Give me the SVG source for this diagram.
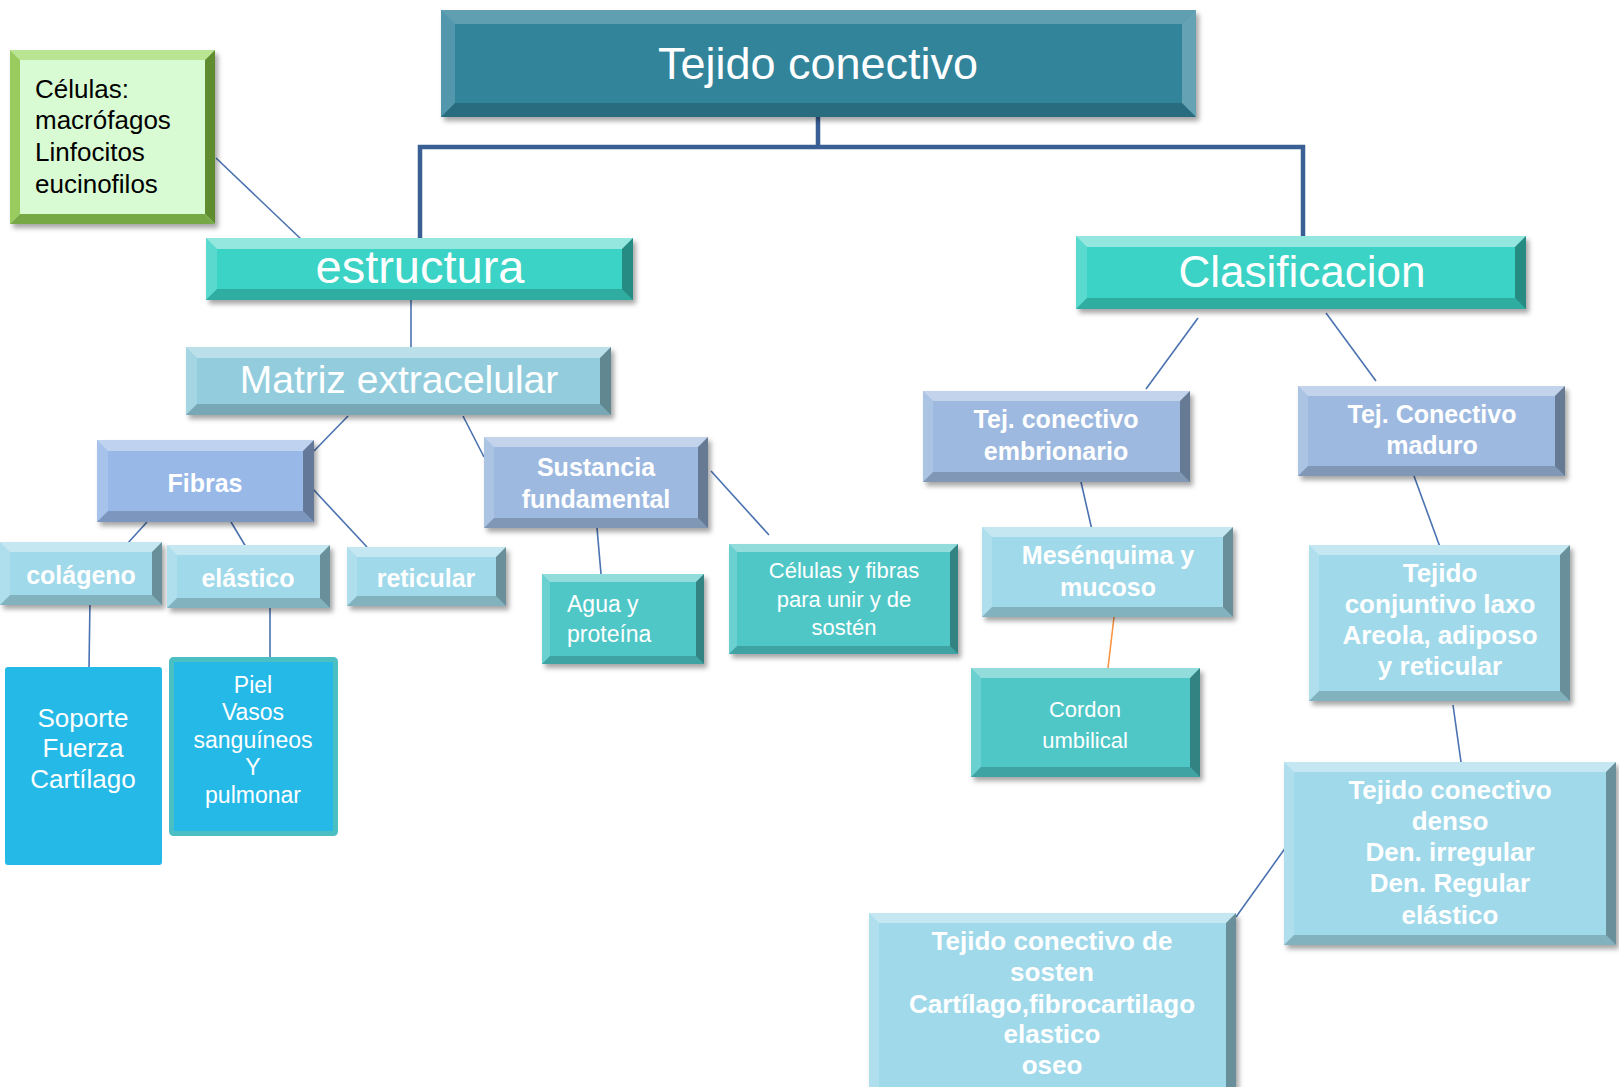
<svg xmlns="http://www.w3.org/2000/svg" width="1619" height="1087" viewBox="0 0 1619 1087">
<defs>
<filter id="sh" x="-10%" y="-10%" width="125%" height="130%">
<feDropShadow dx="3" dy="4" stdDeviation="2.5" flood-color="#000" flood-opacity="0.35"/>
</filter>
<style>
.bt{fill:#fff;fill-opacity:.38}
.bl{fill:#fff;fill-opacity:.16}
.br{fill:#000;fill-opacity:.34}
.bb{fill:#000;fill-opacity:.18}
.box{filter:url(#sh)}
.cal{font-family:"Liberation Sans",Arial,sans-serif;fill:#fff;text-anchor:middle}
.bold{font-family:"Liberation Sans",Arial,sans-serif;font-weight:bold;fill:#fff;text-anchor:middle;font-size:25px}
.reg{font-family:"Liberation Sans",Arial,sans-serif;fill:#fff;text-anchor:middle}
.ln{stroke:#4A72B0;stroke-width:1.6;fill:none}
.teal{fill:#31849B}
.turq{fill:#3AD3C5}
.lblue{fill:#93CDDD}
.peri{fill:#98B8E8}
.peri2{fill:#9DB9DF}
.cyan{fill:#A0D9EA}
.sea{fill:#4FC7C7}
.sky{fill:#25B9E8}
</style>
</defs>

<g id="connectors">
<path d="M818,117 V147 M420,238 V147 H1303 V237" stroke="#3A5F95" stroke-width="4.5" fill="none"/>
<line class="ln" x1="216" y1="158" x2="302" y2="240"/>
<line class="ln" x1="411" y1="300" x2="411" y2="347"/>
<line class="ln" x1="348" y1="416" x2="314" y2="451"/>
<line class="ln" x1="463" y1="416" x2="484" y2="457"/>
<line class="ln" x1="147" y1="522" x2="127" y2="544"/>
<line class="ln" x1="231" y1="522" x2="246" y2="547"/>
<line class="ln" x1="312" y1="488" x2="367" y2="547"/>
<line class="ln" x1="90" y1="600" x2="89" y2="668"/>
<line class="ln" x1="270" y1="607" x2="270" y2="657"/>
<line class="ln" x1="597" y1="528" x2="601" y2="574"/>
<line class="ln" x1="711" y1="471" x2="769" y2="535"/>
<line class="ln" x1="1198" y1="318" x2="1146" y2="389"/>
<line class="ln" x1="1326" y1="313" x2="1376" y2="381"/>
<line class="ln" x1="1081" y1="482" x2="1092" y2="530"/>
<line x1="1114" y1="617" x2="1108" y2="668" stroke="#F79646" stroke-width="1.6"/>
<line class="ln" x1="1414" y1="476" x2="1440" y2="547"/>
<line class="ln" x1="1453" y1="705" x2="1461" y2="762"/>
<line class="ln" x1="1291" y1="840" x2="1236" y2="917"/>
</g>

<g id="n-title">
<rect class="box teal" x="441" y="10" width="755" height="107"/>
<polygon class="bt" points="441,10 1196,10 1182,24 455,24" style="fill-opacity:.22"/>
<polygon class="bl" points="441,10 455,24 455,103 441,117"/>
<polygon class="br" points="1196,10 1196,117 1182,103 1182,24" style="fill:#fff;fill-opacity:.25"/>
<polygon class="bb" points="441,117 455,103 1182,103 1196,117"/>
<text class="cal" x="818" y="79" font-size="45">Tejido conectivo</text>
</g>

<g id="n-celulas">
<rect class="box" x="10" y="50" width="205" height="174" fill="#D9FBD3"/>
<polygon points="10,50 215,50 205,60 20,60" fill="#B9E592"/>
<polygon points="10,50 20,60 20,214 10,224" fill="#9ACB5E"/>
<polygon points="215,50 215,224 205,214 205,60" fill="#5E8C2F"/>
<polygon points="10,224 20,214 205,214 215,224" fill="#76A845"/>
<text font-family="Liberation Sans, Arial, sans-serif" font-size="26" fill="#000">
<tspan x="35" y="98">Células:</tspan>
<tspan x="35" y="129">macrófagos</tspan>
<tspan x="35" y="161">Linfocitos</tspan>
<tspan x="35" y="193">eucinofilos</tspan>
</text>
</g>

<g id="n-estructura">
<rect class="box turq" x="206" y="238" width="427" height="62"/>
<polygon class="bt" points="206,238 633,238 622,249 217,249" style="fill-opacity:.45"/>
<polygon class="bl" points="206,238 217,249 217,289 206,300"/>
<polygon class="br" points="633,238 633,300 622,289 622,249"/>
<polygon class="bb" points="206,300 217,289 622,289 633,300"/>
<text class="cal" x="420" y="283" font-size="47">estructura</text>
</g>

<g id="n-clasificacion">
<rect class="box turq" x="1076" y="236" width="450" height="73"/>
<polygon class="bt" points="1076,236 1526,236 1515,247 1087,247" style="fill-opacity:.45"/>
<polygon class="bl" points="1076,236 1087,247 1087,298 1076,309"/>
<polygon class="br" points="1526,236 1526,309 1515,298 1515,247"/>
<polygon class="bb" points="1076,309 1087,298 1515,298 1526,309"/>
<text class="cal" x="1302" y="287" font-size="44">Clasificacion</text>
</g>

<g id="n-matriz">
<rect class="box lblue" x="186" y="347" width="425" height="68"/>
<polygon class="bt" points="186,347 611,347 600,358 197,358"/>
<polygon class="bl" points="186,347 197,358 197,404 186,415"/>
<polygon class="br" points="611,347 611,415 600,404 600,358"/>
<polygon class="bb" points="186,415 197,404 600,404 611,415"/>
<text class="cal" x="399" y="393" font-size="39">Matriz extracelular</text>
</g>

<g id="n-fibras">
<rect class="box peri" x="97" y="440" width="217" height="82"/>
<polygon class="bt" points="97,440 314,440 303,451 108,451"/>
<polygon class="bl" points="97,440 108,451 108,511 97,522"/>
<polygon class="br" points="314,440 314,522 303,511 303,451"/>
<polygon class="bb" points="97,522 108,511 303,511 314,522"/>
<text class="bold" x="205" y="492">Fibras</text>
</g>

<g id="n-sustancia">
<rect class="box peri2" x="484" y="437" width="224" height="91"/>
<polygon class="bt" points="484,437 708,437 698,447 494,447"/>
<polygon class="bl" points="484,437 494,447 494,518 484,528"/>
<polygon class="br" points="708,437 708,528 698,518 698,447"/>
<polygon class="bb" points="484,528 494,518 698,518 708,528"/>
<text class="bold"><tspan x="596" y="476">Sustancia</tspan><tspan x="596" y="508">fundamental</tspan></text>
</g>

<g id="n-colageno">
<rect class="box cyan" x="0" y="542" width="162" height="63"/>
<polygon class="bt" points="0,542 162,542 152,552 10,552"/>
<polygon class="bl" points="0,542 10,552 10,595 0,605"/>
<polygon class="br" points="162,542 162,605 152,595 152,552"/>
<polygon class="bb" points="0,605 10,595 152,595 162,605"/>
<text class="bold" x="81" y="584">colágeno</text>
</g>

<g id="n-elastico">
<rect class="box cyan" x="167" y="545" width="163" height="63"/>
<polygon class="bt" points="167,545 330,545 320,555 177,555"/>
<polygon class="bl" points="167,545 177,555 177,598 167,608"/>
<polygon class="br" points="330,545 330,608 320,598 320,555"/>
<polygon class="bb" points="167,608 177,598 320,598 330,608"/>
<text class="bold" x="248" y="587">elástico</text>
</g>

<g id="n-reticular">
<rect class="box cyan" x="347" y="547" width="159" height="59"/>
<polygon class="bt" points="347,547 506,547 496,557 357,557"/>
<polygon class="bl" points="347,547 357,557 357,596 347,606"/>
<polygon class="br" points="506,547 506,606 496,596 496,557"/>
<polygon class="bb" points="347,606 357,596 496,596 506,606"/>
<text class="bold" x="426" y="587">reticular</text>
</g>

<g id="n-soporte">
<rect class="sky" x="5" y="667" width="157" height="198" rx="3"/>
<text class="reg" font-size="26"><tspan x="83" y="727">Soporte</tspan><tspan x="83" y="757">Fuerza</tspan><tspan x="83" y="788">Cartílago</tspan></text>
</g>

<g id="n-piel">
<rect class="sky" x="171.5" y="659.5" width="164" height="174" rx="2" stroke="#4BBFC4" stroke-width="5"/>
<text class="reg" font-size="23"><tspan x="253" y="693">Piel</tspan><tspan x="253" y="720">Vasos</tspan><tspan x="253" y="748">sanguíneos</tspan><tspan x="253" y="775">Y</tspan><tspan x="253" y="803">pulmonar</tspan></text>
</g>

<g id="n-agua">
<rect class="box sea" x="542" y="574" width="162" height="90"/>
<polygon class="bt" points="542,574 704,574 696,582 550,582"/>
<polygon class="bl" points="542,574 550,582 550,656 542,664"/>
<polygon class="br" points="704,574 704,664 696,656 696,582"/>
<polygon class="bb" points="542,664 550,656 696,656 704,664"/>
<text class="reg" font-size="23" style="text-anchor:start"><tspan x="567" y="612">Agua y</tspan><tspan x="567" y="642">proteína</tspan></text>
</g>

<g id="n-celfibras">
<rect class="box sea" x="729" y="544" width="229" height="110"/>
<polygon class="bt" points="729,544 958,544 950,552 737,552"/>
<polygon class="bl" points="729,544 737,552 737,646 729,654"/>
<polygon class="br" points="958,544 958,654 950,646 950,552"/>
<polygon class="bb" points="729,654 737,646 950,646 958,654"/>
<text class="reg" font-size="22"><tspan x="844" y="578">Células y fibras</tspan><tspan x="844" y="607">para unir y de</tspan><tspan x="844" y="635">sostén</tspan></text>
</g>

<g id="n-embrionario">
<rect class="box peri2" x="923" y="391" width="267" height="91"/>
<polygon class="bt" points="923,391 1190,391 1180,401 933,401"/>
<polygon class="bl" points="923,391 933,401 933,472 923,482"/>
<polygon class="br" points="1190,391 1190,482 1180,472 1180,401"/>
<polygon class="bb" points="923,482 933,472 1180,472 1190,482"/>
<text class="bold"><tspan x="1056" y="428">Tej. conectivo</tspan><tspan x="1056" y="460">embrionario</tspan></text>
</g>

<g id="n-maduro">
<rect class="box peri2" x="1298" y="386" width="267" height="90"/>
<polygon class="bt" points="1298,386 1565,386 1555,396 1308,396"/>
<polygon class="bl" points="1298,386 1308,396 1308,466 1298,476"/>
<polygon class="br" points="1565,386 1565,476 1555,466 1555,396"/>
<polygon class="bb" points="1298,476 1308,466 1555,466 1565,476"/>
<text class="bold"><tspan x="1432" y="423">Tej. Conectivo</tspan><tspan x="1432" y="454">maduro</tspan></text>
</g>

<g id="n-mesenquima">
<rect class="box cyan" x="982" y="527" width="251" height="90"/>
<polygon class="bt" points="982,527 1233,527 1223,537 992,537"/>
<polygon class="bl" points="982,527 992,537 992,607 982,617"/>
<polygon class="br" points="1233,527 1233,617 1223,607 1223,537"/>
<polygon class="bb" points="982,617 992,607 1223,607 1233,617"/>
<text class="bold"><tspan x="1108" y="564">Mesénquima y</tspan><tspan x="1108" y="596">mucoso</tspan></text>
</g>

<g id="n-cordon">
<rect class="box sea" x="971" y="668" width="229" height="109"/>
<polygon class="bt" points="971,668 1200,668 1190,678 981,678"/>
<polygon class="bl" points="971,668 981,678 981,767 971,777"/>
<polygon class="br" points="1200,668 1200,777 1190,767 1190,678"/>
<polygon class="bb" points="971,777 981,767 1190,767 1200,777"/>
<text class="reg" font-size="22"><tspan x="1085" y="717">Cordon</tspan><tspan x="1085" y="748">umbilical</tspan></text>
</g>

<g id="n-laxo">
<rect class="box cyan" x="1309" y="545" width="261" height="156"/>
<polygon class="bt" points="1309,545 1570,545 1560,555 1319,555"/>
<polygon class="bl" points="1309,545 1319,555 1319,691 1309,701"/>
<polygon class="br" points="1570,545 1570,701 1560,691 1560,555"/>
<polygon class="bb" points="1309,701 1319,691 1560,691 1570,701"/>
<text class="bold" style="font-size:26px"><tspan x="1440" y="582">Tejido</tspan><tspan x="1440" y="613">conjuntivo laxo</tspan><tspan x="1440" y="644">Areola, adiposo</tspan><tspan x="1440" y="675">y reticular</tspan></text>
</g>

<g id="n-denso">
<rect class="box cyan" x="1284" y="762" width="332" height="183"/>
<polygon class="bt" points="1284,762 1616,762 1606,772 1294,772"/>
<polygon class="bl" points="1284,762 1294,772 1294,935 1284,945"/>
<polygon class="br" points="1616,762 1616,945 1606,935 1606,772"/>
<polygon class="bb" points="1284,945 1294,935 1606,935 1616,945"/>
<text class="bold" style="font-size:26px"><tspan x="1450" y="799">Tejido conectivo</tspan><tspan x="1450" y="830">denso</tspan><tspan x="1450" y="861">Den. irregular</tspan><tspan x="1450" y="892">Den. Regular</tspan><tspan x="1450" y="924">elástico</tspan></text>
</g>

<g id="n-sosten">
<rect class="box cyan" x="869" y="913" width="367" height="185"/>
<polygon class="bt" points="869,913 1236,913 1226,923 879,923"/>
<polygon class="bl" points="869,913 879,923 879,1088 869,1098"/>
<polygon class="br" points="1236,913 1236,1098 1226,1088 1226,923"/>
<text class="bold" style="font-size:26px"><tspan x="1052" y="950">Tejido conectivo de</tspan><tspan x="1052" y="981">sosten</tspan><tspan x="1052" y="1013">Cartílago,fibrocartilago</tspan><tspan x="1052" y="1043">elastico</tspan><tspan x="1052" y="1074">oseo</tspan></text>
</g>
</svg>
